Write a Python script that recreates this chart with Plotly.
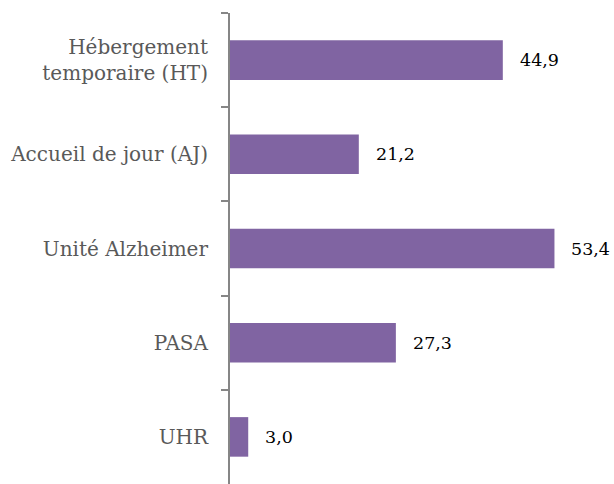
import plotly.graph_objects as go

categories = ["Hébergement<br>temporaire (HT)", "Accueil de jour (AJ)", "Unité Alzheimer", "PASA", "UHR"]
values = [44.9, 21.2, 53.4, 27.3, 3.0]
value_labels = ["44,9", "21,2", "53,4", "27,3", "3,0"]

bar_color = "#8064A2"

fig = go.Figure()
fig.add_trace(go.Bar(
    y=categories,
    x=values,
    orientation="h",
    marker=dict(color=bar_color, line=dict(width=0)),
    hoverinfo="skip",
))

for cat, v, lab in zip(categories, values, value_labels):
    fig.add_annotation(
        x=v, y=cat, text=lab, showarrow=False,
        xanchor="left", xshift=15,
        font=dict(family="DejaVu Serif", size=17.5, color="#000000"),
    )

fig.update_layout(
    width=614, height=484,
    margin=dict(l=230, r=0, t=13, b=0),
    paper_bgcolor="white", plot_bgcolor="white",
    bargap=0.58,
    showlegend=False,
    font=dict(family="DejaVu Serif", size=20, color="#595959"),
)
fig.update_xaxes(range=[0, 63.2], visible=False, showgrid=False, zeroline=False, automargin=False)
fig.update_yaxes(
    autorange="reversed",
    type="category",
    automargin=False,
    showline=True, linecolor="#868686", linewidth=2,
    ticks="outside", tickson="boundaries", ticklen=7, tickcolor="#868686", tickwidth=2,
    showgrid=False,
    ticklabelstandoff=16,
    tickfont=dict(family="DejaVu Serif", size=20, color="#595959"),
)

fig.write_html(
    "out.html",
    config={"displayModeBar": False},
    post_script="document.body.style.margin='0';document.body.style.overflow='hidden';",
)
